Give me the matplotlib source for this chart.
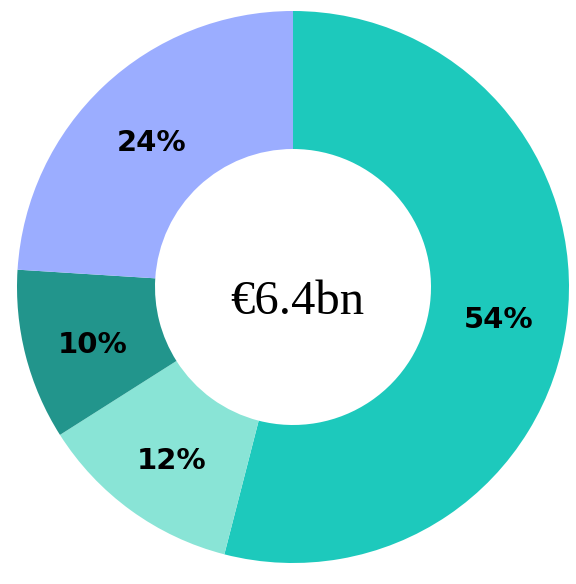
import numpy as np
import matplotlib
matplotlib.use('Agg')
import matplotlib.pyplot as plt

## Shares of the €6.4bn total, clockwise from 12 o'clock
shares = [54, 12, 10, 24]
labels = ['54%', '12%', '10%', '24%']
colours = ['#1DC9BC', '#89E4D6', '#22958C', '#9BADFF']
centre_text = '€6.4bn'

fig = plt.figure(figsize=(5.76, 5.84), dpi=100)
ax = fig.add_axes([0, 0, 1, 1])

## work in pixel units so the ring lands where it should
cx, cy, rad = 293, 297, 276
wedges, texts, autotexts = ax.pie(shares, colors=colours, startangle=90,
                                  counterclock=False, radius=rad,
                                  center=(cx, cy),
                                  autopct=lambda p: '%d%%' % round(p),
                                  pctdistance=0.75,
                                  wedgeprops=dict(width=rad*0.5, linewidth=0))
for t, lab in zip(autotexts, labels):
    t.set_text(lab)
    x, y = t.get_position()
    t.set_position((x, y - 7))  # labels sit a little low in the original
    t.set_fontfamily('DejaVu Sans')
    t.set_fontweight('bold')
    t.set_fontsize(21)
    t.set_color('black')

ax.text(cx + 4, 270, centre_text, ha='center', va='baseline',
        fontfamily='Liberation Serif', fontsize=35, color='black')

ax.set_xlim(0, 576)
ax.set_ylim(0, 584)
ax.set_aspect('auto')
ax.axis('off')

fig.savefig('out.png', dpi=100)
